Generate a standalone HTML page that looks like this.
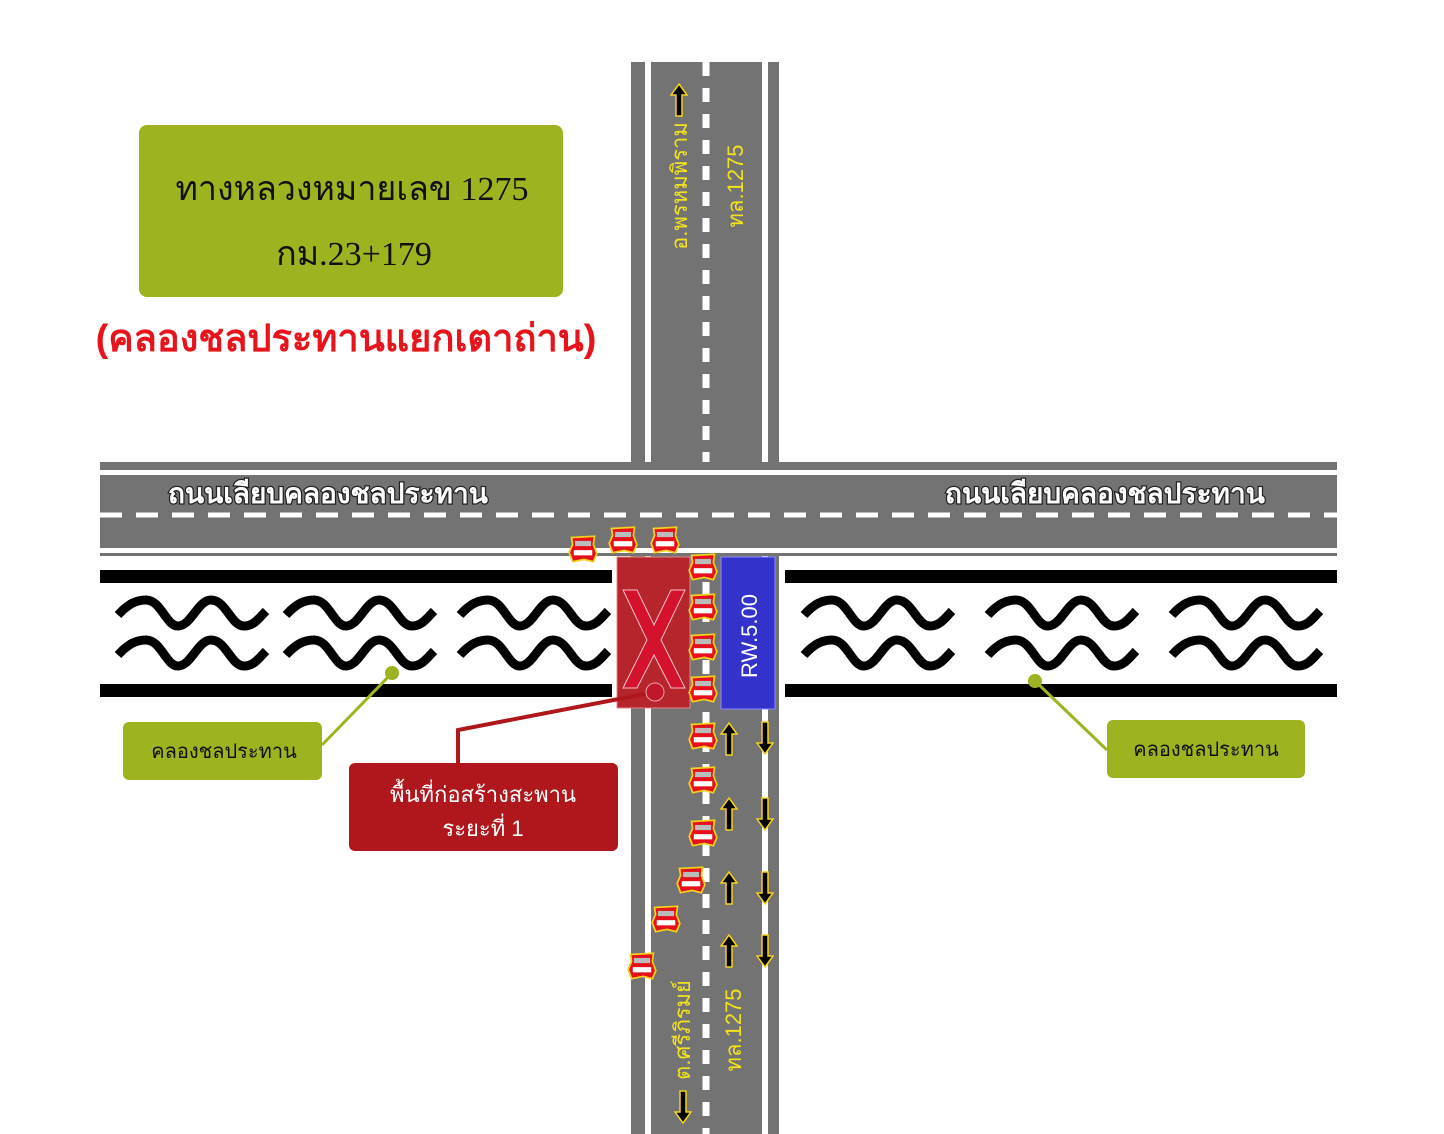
<!DOCTYPE html>
<html><head><meta charset="utf-8"><style>
html,body{margin:0;padding:0;background:#fff}
svg{display:block}
</style></head><body>
<svg width="1444" height="1134" viewBox="0 0 1444 1134" xmlns="http://www.w3.org/2000/svg" font-family="'Liberation Sans','Noto Sans CJK SC',sans-serif">
<defs>
<symbol id="bar" viewBox="0 0 26 24">
<path d="M3 2 L23 1 L22 8 L25 16 L22 23 L14 21 L4 23 L1 15 L4 8 Z" fill="#e4101a" stroke="#f5d21c" stroke-width="1.5"/>
<rect x="6" y="5" width="14" height="4.5" fill="#bbb"/>
<rect x="5" y="13" width="16" height="4.5" fill="#fff"/>
</symbol>
<g id="wave" fill="none" stroke="#000" stroke-width="9">
<path d="M2 17 C12 6 20 2 30 2 C45 2 50 28 62 28 C75 28 82 2 95 2 C110 2 115 28 128 28 C138 28 143 20 150 13"/>
<path d="M2 57 C12 46 20 42 30 42 C45 42 50 68 62 68 C75 68 82 42 95 42 C110 42 115 68 128 68 C138 68 143 60 150 53"/>
</g>
</defs>

<rect x="631" y="62" width="148" height="1072" fill="#737373"/>
<rect x="645" y="62" width="6" height="1072" fill="#fff"/>
<rect x="762" y="62" width="6" height="1072" fill="#fff"/>
<line x1="706" y1="62" x2="706" y2="1134" stroke="#fff" stroke-width="7" stroke-dasharray="14 12"/>

<rect x="100" y="462" width="1237" height="94" fill="#737373"/>
<rect x="100" y="470" width="1237" height="5" fill="#fff"/>
<rect x="100" y="548" width="1237" height="5" fill="#fff"/>
<line x1="100" y1="515" x2="1337" y2="515" stroke="#fff" stroke-width="5" stroke-dasharray="22 14"/>

<rect x="100" y="556" width="531" height="154" fill="#fff"/>
<rect x="779" y="556" width="558" height="154" fill="#fff"/>
<rect x="100" y="570" width="512" height="13" fill="#000"/>
<rect x="100" y="684" width="512" height="13" fill="#000"/>
<rect x="785" y="570" width="552" height="13" fill="#000"/>
<rect x="785" y="684" width="552" height="13" fill="#000"/>
<use href="#wave" x="116" y="598"/>
<use href="#wave" x="284" y="598"/>
<use href="#wave" x="458" y="598"/>
<use href="#wave" x="802" y="598"/>
<use href="#wave" x="986" y="598"/>
<use href="#wave" x="1170" y="598"/>

<rect x="617" y="557" width="73" height="151" fill="#b7252c" stroke="#d88" stroke-width="1"/>
<path d="M623 590 L637 590 L654 625 L671 590 L685 590 L661 640 L685 688 L671 688 L654 655 L637 688 L623 688 L647 640 Z" fill="#d4122e" stroke="#f7c0c8" stroke-width="1"/>
<rect x="721" y="557" width="54" height="152" fill="#3333cc" stroke="#8888ff" stroke-width="1"/>
<text transform="translate(757,636) rotate(-90)" text-anchor="middle" font-size="22" fill="#fff">RW.5.00</text>

<g>
<use href="#bar" x="568" y="535" width="30" height="28"/>
<use href="#bar" x="608" y="526" width="30" height="28"/>
<use href="#bar" x="650" y="526" width="30" height="28"/>
<use href="#bar" x="688" y="553" width="30" height="28"/>
<use href="#bar" x="688" y="593" width="30" height="28"/>
<use href="#bar" x="688" y="633" width="30" height="28"/>
<use href="#bar" x="688" y="675" width="30" height="28"/>
<use href="#bar" x="688" y="722" width="30" height="28"/>
<use href="#bar" x="688" y="766" width="30" height="28"/>
<use href="#bar" x="688" y="819" width="30" height="28"/>
<use href="#bar" x="676" y="866" width="30" height="28"/>
<use href="#bar" x="651" y="905" width="30" height="28"/>
<use href="#bar" x="627" y="952" width="30" height="28"/>
</g>

<g fill="#000" stroke="#f5d21c" stroke-width="1.5">
<path d="M0 -16 L8 -5 L3 -5 L3 16 L-3 16 L-3 -5 L-8 -5 Z" transform="translate(729,739)"/>
<path d="M0 -16 L8 -5 L3 -5 L3 16 L-3 16 L-3 -5 L-8 -5 Z" transform="translate(729,814)"/>
<path d="M0 -16 L8 -5 L3 -5 L3 16 L-3 16 L-3 -5 L-8 -5 Z" transform="translate(729,888)"/>
<path d="M0 -16 L8 -5 L3 -5 L3 16 L-3 16 L-3 -5 L-8 -5 Z" transform="translate(729,951)"/>
<path d="M0 -16 L8 -5 L3 -5 L3 16 L-3 16 L-3 -5 L-8 -5 Z" transform="translate(679,100)"/>
<path d="M0 16 L8 5 L3 5 L3 -16 L-3 -16 L-3 5 L-8 5 Z" transform="translate(765,738)"/>
<path d="M0 16 L8 5 L3 5 L3 -16 L-3 -16 L-3 5 L-8 5 Z" transform="translate(765,814)"/>
<path d="M0 16 L8 5 L3 5 L3 -16 L-3 -16 L-3 5 L-8 5 Z" transform="translate(765,888)"/>
<path d="M0 16 L8 5 L3 5 L3 -16 L-3 -16 L-3 5 L-8 5 Z" transform="translate(765,951)"/>
<path d="M0 16 L8 5 L3 5 L3 -16 L-3 -16 L-3 5 L-8 5 Z" transform="translate(683,1107)"/>
</g>

<g fill="#f2e21e" font-size="22" text-anchor="middle">
<text transform="translate(687,186) rotate(-90)">อ.พรหมพิราม</text>
<text transform="translate(743,186) rotate(-90)">ทล.1275</text>
<text transform="translate(690,1030) rotate(-90)">ต.ศรีภิรมย์</text>
<text transform="translate(741,1030) rotate(-90)">ทล.1275</text>
</g>

<g font-size="28" fill="#fff" stroke="#222" stroke-width="2.5" paint-order="stroke" font-weight="bold">
<text x="168" y="503">ถนนเลียบคลองชลประทาน</text>
<text x="945" y="503">ถนนเลียบคลองชลประทาน</text>
</g>

<rect x="139" y="125" width="424" height="172" rx="8" fill="#9fb320"/>
<g font-family="'Liberation Serif','Noto Serif CJK SC',serif" fill="#111" font-size="34" text-anchor="middle">
<text x="352" y="200">ทางหลวงหมายเลข 1275</text>
<text x="354" y="265">กม.23+179</text>
</g>
<text x="346" y="351" text-anchor="middle" font-size="38" font-weight="bold" fill="#e8141c">(คลองชลประทานแยกเตาถ่าน)</text>

<line x1="392" y1="673" x2="322" y2="745" stroke="#9fb320" stroke-width="3"/>
<circle cx="392" cy="673" r="7" fill="#9fb320"/>
<rect x="123" y="722" width="199" height="58" rx="6" fill="#9fb320"/>
<text x="224" y="758" text-anchor="middle" font-size="20" fill="#111">คลองชลประทาน</text>
<line x1="1035" y1="681" x2="1107" y2="750" stroke="#9fb320" stroke-width="3"/>
<circle cx="1035" cy="681" r="7" fill="#9fb320"/>
<rect x="1107" y="720" width="198" height="58" rx="6" fill="#9fb320"/>
<text x="1206" y="756" text-anchor="middle" font-size="20" fill="#111">คลองชลประทาน</text>

<polyline points="655,692 458,730 458,763" fill="none" stroke="#b0171d" stroke-width="4"/>
<circle cx="655" cy="692" r="9" fill="#c0182a" stroke="#f0a0a8" stroke-width="1"/>
<rect x="349" y="763" width="269" height="88" rx="6" fill="#b0171d"/>
<g fill="#fff" font-size="22" text-anchor="middle">
<text x="483" y="802">พื้นที่ก่อสร้างสะพาน</text>
<text x="483" y="836">ระยะที่ 1</text>
</g>
</svg>
</body></html>
